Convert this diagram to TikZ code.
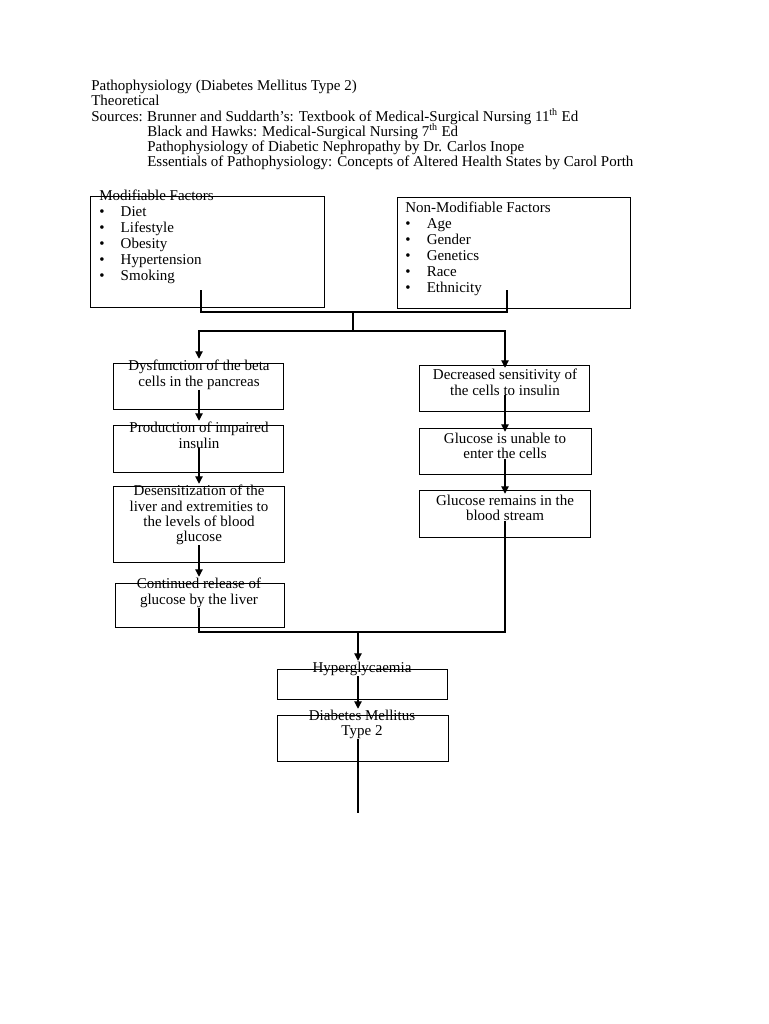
\documentclass[tikz,border=0pt]{standalone}
\usepackage{fontspec}
\setmainfont{Liberation Serif}
\usetikzlibrary{arrows.meta,positioning}

\newcommand{\itm}[1]{\makebox[17.2pt][l]{\textbullet}#1}
\newcommand{\ordth}{\smash{\textsuperscript{th}}}

\begin{document}
\begin{tikzpicture}[
  x=0.8pt, y=-0.8pt,
  font=\fontsize{12}{12.2}\selectfont,
  box/.style={draw, line width=0.9pt, anchor=north west, inner sep=0pt},
  sz/.style 2 args={minimum width=#1*0.8pt, minimum height=#2*0.8pt},
  txt/.style={align=center, inner sep=0pt, anchor=north},
  lst/.style={align=left, inner sep=0pt, anchor=north west, font=\fontsize{12}{12.8}\selectfont},
  line/.style={line width=0.9pt},
  arr/.style={line width=0.9pt, -{Triangle[length=6pt, width=6pt]}, shorten >=1pt}
]
\path[fill=white, use as bounding box] (0,0) rectangle (768,1024);

% heading and sources
\node[align=left, inner sep=0pt, anchor=north west] (head) at (91,80)
  {Pathophysiology (Diabetes Mellitus Type 2)\\
   Theoretical\\
   \makebox[44.8pt][l]{Sources:}Brunner and Suddarth’s: Textbook of Medical-Surgical Nursing 11\ordth{} Ed\\
   \hspace*{44.8pt}Black and Hawks: Medical-Surgical Nursing 7\ordth{} Ed\\
   \hspace*{44.8pt}Pathophysiology of Diabetic Nephropathy by Dr. Carlos Inope\\
   \hspace*{44.8pt}Essentials of Pathophysiology: Concepts of Altered Health States by Carol Porth};

% risk factors
\node[box, sz={234}{111}] (mod) at (90,196) {};
\node[lst] (modt) at (99,190)
  {Modifiable Factors\\ \itm{Diet}\\ \itm{Lifestyle}\\ \itm{Obesity}\\ \itm{Hypertension}\\ \itm{Smoking}};
\node[box, sz={233}{111}] (nmod) at (397,197) {};
\node[lst] (nmodt) at (405,202)
  {Non-Modifiable Factors\\ \itm{Age}\\ \itm{Gender}\\ \itm{Genetics}\\ \itm{Race}\\ \itm{Ethnicity}};

% left branch
\node[box, sz={170}{46}] (l1) at (113,363) {};
\node[txt] (l1t) at (199,360) {Dysfunction of the beta\\ cells in the pancreas};
\node[box, sz={170}{47}] (l2) at (113,425) {};
\node[txt] (l2t) at (199,422) {Production of impaired\\ insulin};
\node[box, sz={171}{76}] (l3) at (113,486) {};
\node[txt] (l3t) at (199,485) {Desensitization of the\\ liver and extremities to\\ the levels of blood\\ glucose};
\node[box, sz={169}{44}] (l4) at (115,583) {};
\node[txt] (l4t) at (199,578) {Continued release of\\ glucose by the liver};

% right branch
\node[box, sz={170}{46}] (r1) at (419,365) {};
\node[txt] (r1t) at (505,369) {Decreased sensitivity of\\ the cells to insulin};
\node[box, sz={172}{46}] (r2) at (419,428) {};
\node[txt] (r2t) at (505,433) {Glucose is unable to\\ enter the cells};
\node[box, sz={171}{47}] (r3) at (419,490) {};
\node[txt] (r3t) at (505,495) {Glucose remains in the\\ blood stream};

% outcome
\node[box, sz={170}{30}] (hyp) at (277,669) {};
\node[txt] (hypt) at (362,662) {Hyperglycaemia};
\node[box, sz={171}{46}] (dm) at (277,715) {};
\node[txt] (dmt) at (362,710) {Diabetes Mellitus\\ Type 2};

\coordinate (mstub) at (201,290);
\coordinate (nstub) at (507,290);
\coordinate (mid) at (353,312);
\coordinate (split) at (353,331);
\coordinate (join) at (358,632);
\coordinate (tail) at (358,813);

\draw[line] (mstub) |- (mid) -| (nstub);
\draw[line] (mid) -- (split);
\draw[arr] (split) -| (l1t.north);
\draw[arr] (split) -| (r1t.north);

\draw[arr] (l1t.south) -- (l2t.north);
\draw[arr] (l2t.south) -- (l3t.north);
\draw[arr] (l3t.south) -- (l4t.north);
\draw[arr] (r1t.south) -- (r2t.north);
\draw[arr] (r2t.south) -- (r3t.north);

\draw[line] (l4t.south) |- (join) -| (r3t.south);
\draw[arr] (join) -- (join |- hypt.north);
\draw[arr] (join |- hypt.south) -- (join |- dmt.north);
\draw[line] (join |- dmt.south) -- (tail);

\end{tikzpicture}
\end{document}
